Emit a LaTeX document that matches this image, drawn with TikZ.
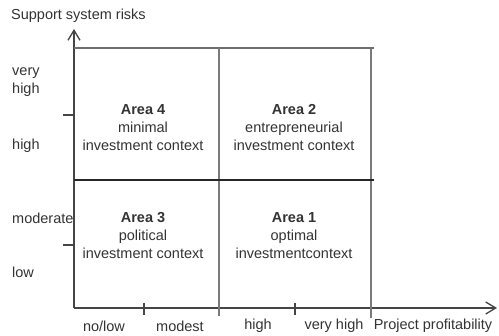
\documentclass[tikz,border=0pt]{standalone}
\usepackage{fontspec}
\setmainfont{Liberation Sans}
\usepackage{tikz}
\usetikzlibrary{arrows.meta}
\definecolor{ink}{HTML}{333333}
\definecolor{axisgray}{HTML}{454545}
\definecolor{gridgray}{HTML}{7A7A7A}
\tikzstyle{axis} = [line width=1.3pt, draw=axisgray, -{Straight Barb[length=10pt,width=12pt,line width=1.3pt]}]
\tikzset{
 txt/.style
  = {text=ink, font=\fontsize{14.5}{18}\selectfont, inner sep=0pt, align=center},
 ltxt/.style
  = {txt, anchor=west, align=left},
 area/.style
  = {txt, align=center},
 grid/.style
  = {draw=gridgray, line width=1.5pt},
 tick/.style
  = {draw=axisgray, line width=1.2pt},
}

\begin{document}
\begin{tikzpicture}[x=1pt,y=1pt]
\useasboundingbox (-74,-28) rectangle (425,308);

% Axes
\coordinate (O) at (0,0);
\coordinate (ytip) at (0,279);
\coordinate (xtip) at (423,0);
\draw[axis] (O) -- (ytip);
\draw[axis] (O) -- (xtip);

% Quadrant frame
\draw[grid, draw=gridgray!90!black, line width=2pt] (0,260) -- (300,260);
\draw[grid] (145,260) -- (145,-8.5);
\draw[grid] (297,259) -- (297,-10);
\draw[line width=1.5pt, draw=black!85] (0,128) -- (300,128);

% Ticks
\draw[tick] (-11,193) -- (0,193);
\draw[tick] (-11,63) -- (0,63);
\draw[tick] (70,5) -- (70,-7);
\draw[tick] (221,5) -- (221,-7);

% Axis titles
\node[ltxt] (ytitle) at (-63,292) {Support system risks};
\node[txt] (xtitle) at (359,-18) {Project profitability};

% Risk levels
\node[ltxt] (veryhigh) at (-62,225.5) {very\\high};
\node[ltxt] (high) at (-62,162) {high};
\node[ltxt] (moderate) at (-62,90) {moderate};
\node[ltxt] (low) at (-62,36) {low};

% Profitability levels
\node[txt] (nolow) at (30,-18) {no/low};
\node[txt] (modest) at (106,-18) {modest};
\node[txt] (phigh) at (184,-18) {high};
\node[txt] (pveryhigh) at (260,-18) {very high};

% Areas
\node[area] (area4) at (69,180) {\textbf{Area 4}\\minimal\\investment context};
\node[area] (area2) at (220,180) {\textbf{Area 2}\\entrepreneurial\\investment context};
\node[area] (area3) at (69,72) {\textbf{Area 3}\\political\\investment context};
\node[area] (area1) at (220,72) {\textbf{Area 1}\\optimal\\investmentcontext};

\end{tikzpicture}
\end{document}
